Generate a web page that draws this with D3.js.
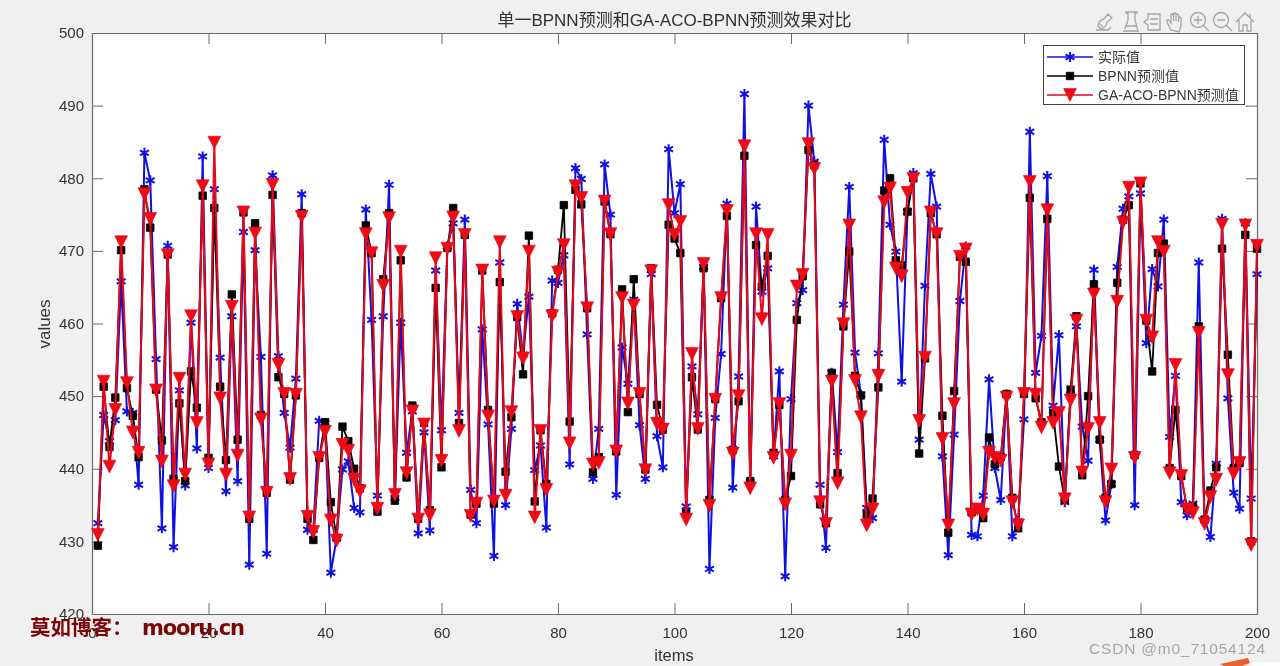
<!DOCTYPE html>
<html><head><meta charset="utf-8">
<script src="https://cdn.jsdelivr.net/npm/d3@7/dist/d3.min.js"></script>
<style>html,body{margin:0;padding:0;background:#f0f0f0;overflow:hidden}svg{display:block;filter:blur(0.35px)}
text{font-family:"Liberation Sans","Noto Sans CJK SC",sans-serif}</style></head><body>
<svg id="c" width="1280" height="666"></svg>
<script>
const chartTitle="单一BPNN预测和GA-ACO-BPNN预测效果对比";
const seriesNames=["实际值","BPNN预测值","GA-ACO-BPNN预测值"];
const xTicks=[0,20,40,60,80,100,120,140,160,180,200];
const yTicks=[420,430,440,450,460,470,480,490,500];
const actual=[432.5,447.4,443.8,446.7,465.8,447.9,447.7,437.8,483.5,479.7,455.1,431.8,470.7,429.2,450.8,437.7,460.1,442.8,483,440.1,478.5,455.3,436.9,461,438.3,472.6,426.8,470.1,455.4,428.3,480.4,455.5,447.7,442.9,452.4,477.8,431.6,431.6,446.6,446.3,425.7,430.5,439.9,441,434.6,434,475.7,460.5,436.3,461,479.1,436,460.1,442.2,447.9,431.1,445,431.5,467.3,445.3,470.6,473.8,447.7,474.3,437.1,432.5,459.2,446.1,428,468.4,435,445.5,462.7,455.7,463.7,439.8,443.2,431.9,465.9,465.6,469.4,440.6,481.4,479.9,458.5,438.6,445.5,481.9,475,436.4,456.7,451.7,463.3,446,438.6,466.8,444.5,440.2,484,475.2,479.2,434.8,454.1,447.5,467.8,426.2,447,455.8,476.5,437.4,452.7,491.6,438.2,476.1,464.4,467.6,441.7,453.4,425.2,449.6,462.8,464.6,490,482.3,437.8,429.1,453.2,442.3,462.6,478.8,456,450.2,434.6,433.2,455.9,485.3,473.6,469.9,452,475.4,480.7,444,465.2,480.6,476.1,441.7,428.1,444.7,463.1,470.6,430.9,430.7,436.3,452.3,440.1,435.7,450.2,430.7,432.8,446.8,486.4,453.2,458.3,480.3,448.7,458.4,435.4,450.2,459.6,445.8,441.1,467.4,444,432.9,437.9,467.8,475.8,477.5,435,477.9,457.3,467.5,465.1,474.3,444.4,452.8,435.4,433.6,435.2,468.4,433,430.6,440.7,474.4,449.7,436.7,434.5,473.8,435.9,466.8];
const bpnn=[429.4,451.3,443,449.8,470.1,451.1,447.3,441.6,478.5,473.2,450.9,443.9,469.5,438.6,449,438.3,453.4,448.4,477.6,441.5,475.9,451.3,441.2,464,444,475.3,433.1,473.8,447.4,436.7,477.7,452.6,450.3,438.5,450.1,475.2,433.1,430.2,441.5,446.4,435.4,430.5,445.8,443.8,440,437.3,473.5,469.7,434.1,466.1,475.2,435.6,468.7,438.8,448.7,433.1,446.3,434.3,464.9,440.2,470.4,475.9,446.3,472.2,433.7,435.2,467.3,448.1,435.2,465.7,439.6,447.1,460.9,453,472.1,435.5,445.3,437.9,461.4,467.4,476.3,446.5,478.4,476.4,462.1,439.5,441.6,476.8,472.3,442.4,464.7,447.8,466.1,450.3,439.9,467.6,448.8,445.4,473.6,471.7,469.7,433.9,452.6,445.4,467.6,435.7,449.6,463.5,474.8,442.6,449.3,483.1,438.3,470.8,465.1,469.3,442.2,448.8,435.7,439,460.5,466.5,483.9,481.8,435.1,432.5,453.2,439.4,459.6,469.9,452.8,450.1,433.7,435.9,451.2,478.3,480,468.7,468,475.4,480,442.1,455.2,475.2,472.3,447.3,431.2,450.7,469.2,468.5,434,434.4,433.2,444.3,440.6,441.6,450.3,436,431.8,450.3,477.3,449.7,446.4,474.4,447.7,440.3,435.7,450.9,461,439.1,450,465.4,444,436,437.9,465.6,474.3,476.3,441.9,479.3,460.4,453.4,469.7,471,440.1,448.1,439,434.6,434.8,459.6,433,437,440.2,470.3,455.7,440.1,440.8,472.2,430,470.3];
const gaaco=[430.9,452,440.3,448.1,471.2,451.8,445,442.2,477.8,474.4,450.8,441,469.4,437.6,452.4,439.2,461,446.3,478.9,440.6,484.9,449.7,439.2,462.3,441.8,475.3,433.3,472.4,446.8,436.7,479.1,454.3,450.3,438.6,450.2,474.7,433.4,431.3,441.5,445.1,432.9,430.1,443.3,442.5,438.5,436.9,472.3,469.7,434.5,465.2,474.5,436.4,469.9,439.4,447.9,433,446.1,433.6,469,441.1,470.3,474.6,445.2,472.2,433.5,435.2,467.3,447.2,435.5,471.2,436.3,447.8,460.9,455.2,469.9,433.3,445.2,437.1,461,467,470.8,443.5,478.9,477.3,462.1,440.6,440.8,476.8,472.3,442.4,463.5,449,462.5,450.3,439.8,467.2,446.2,445.4,476.3,472.2,474,433,455.8,445.5,468.2,434.9,449.5,463.5,475.5,442.1,450,484.4,437.3,472.3,460.6,472.2,441.5,448.9,435.1,441.8,465.1,466.7,484.7,481.3,435.4,432.4,452,438,459.9,473.5,452.1,447.1,432.2,434.4,452.8,476.7,478.6,467.6,466.5,478,479.9,446.6,455.3,475.3,472.3,444.1,432.2,448.9,469.2,470.2,433.7,434.4,433.7,442.2,441.5,441.1,449.8,435.4,432.2,450.3,479.5,450.2,445.7,475.6,446.3,447.7,435.8,449.4,460.4,439.5,445.5,464,446.3,435.4,439.9,463,473.9,478.7,441.5,479.3,460.4,458.1,471.2,469.9,439.4,454.3,439,434.4,433.9,458.7,432.4,436.1,438.5,473.6,452.9,439.3,440.8,473.5,429.5,470.7];

const W=1280,H=666,L=92,R=1257,T=33,B=614;
const svg=d3.select("#c");
svg.append("rect").attr("width",W).attr("height",H).attr("fill","#f0f0f0");
svg.append("rect").attr("x",L).attr("y",T).attr("width",R-L).attr("height",B-T).attr("fill","#fff");

const x=d3.scaleLinear().domain([0,200]).range([L,R]);
const y=d3.scaleLinear().domain([420,500]).range([B,T]);
const axisCol="#6b6b6b",txtCol="#333";
function style(g,hide){
  g.select(".domain").attr("stroke",axisCol).attr("stroke-width",1.2);
  g.selectAll(".tick line").attr("stroke",axisCol);
  g.selectAll(".tick text").attr("fill",txtCol).attr("font-size",15).attr("font-family",'"Liberation Sans",sans-serif');
  if(hide)g.selectAll(".tick text").remove();
}
svg.append("g").attr("transform",`translate(0,${B})`).call(d3.axisBottom(x).tickValues(xTicks).tickSizeInner(-11).tickSizeOuter(0).tickPadding(13)).call(style,false);
svg.append("g").attr("transform",`translate(0,${T})`).call(d3.axisTop(x).tickValues(xTicks).tickSizeInner(-11).tickSizeOuter(0)).call(style,true);
svg.append("g").attr("transform",`translate(${L},0)`).call(d3.axisLeft(y).tickValues(yTicks).tickSizeInner(-11).tickSizeOuter(0).tickPadding(8)).call(style,false);
svg.append("g").attr("transform",`translate(${R},0)`).call(d3.axisRight(y).tickValues(yTicks).tickSizeInner(-11).tickSizeOuter(0)).call(style,true);

const triDown={draw(c,s){const r=Math.sqrt(s)/2;c.moveTo(-r,-r);c.lineTo(r,-r);c.lineTo(0,r);c.closePath();}};
const styles=[
 {data:actual,col:"#1010e6",type:d3.symbolAsterisk,size:72,fill:"none",sw:2,lw:2},
 {data:bpnn,col:"#000",type:d3.symbolSquare,size:56,fill:"#000",sw:0.8,lw:1.8},
 {data:gaaco,col:"#e5091c",type:triDown,size:165,fill:"#f00a14",sw:0.6,lw:2}
];
const line=d3.line().x((d,i)=>x(i+1)).y(d=>y(d));
const plot=svg.append("g");
styles.forEach(s=>{
  const g=plot.append("g");
  g.append("path").attr("d",line(s.data)).attr("fill","none").attr("stroke",s.col).attr("stroke-width",s.lw).attr("stroke-linejoin","round");
  g.selectAll("path.m").data(s.data).join("path").attr("class","m")
   .attr("transform",(d,i)=>`translate(${x(i+1)},${y(d)})`)
   .attr("d",d3.symbol().type(s.type).size(s.size)())
   .attr("fill",s.fill).attr("stroke",s.col).attr("stroke-width",s.sw);
});

svg.append("text").attr("x",674.5).attr("y",26).attr("text-anchor","middle").attr("font-size",17).attr("fill","#303030").text(chartTitle);
svg.append("text").attr("x",674).attr("y",661).attr("text-anchor","middle").attr("font-size",16.5).attr("fill",txtCol).text("items");
svg.append("text").attr("transform","translate(50,324) rotate(-90)").attr("text-anchor","middle").attr("font-size",17).attr("fill",txtCol).text("values");

// legend
const lg=svg.append("g");
lg.append("rect").attr("x",1043.5).attr("y",45.5).attr("width",201).attr("height",59).attr("fill","#fff").attr("stroke","#444");
const lgY=d3.scalePoint().domain(seriesNames).range([57,95]);
styles.forEach((s,i)=>{
  const n=seriesNames[i],yy=lgY(n);
  lg.append("line").attr("x1",1047).attr("x2",1093).attr("y1",yy).attr("y2",yy).attr("stroke",s.col).attr("stroke-width",1.5);
  lg.append("path").attr("transform",`translate(1070,${yy})`).attr("d",d3.symbol().type(s.type).size(s.size)()).attr("fill",s.fill).attr("stroke",s.col).attr("stroke-width",s.sw);
  lg.append("text").attr("x",1098).attr("y",yy+5).attr("font-size",14).attr("fill","#383838").text(n);
});

// toolbar
const tb=svg.append("g").attr("fill","none").attr("stroke","#a5a5a5").attr("stroke-width",1.3);
tb.append("path").attr("d","M1096 30h12l3-3M1098 26q1-6 6-7l4-5 4 4-5 4q-1 6-6 7zM1100 24l3 3");
tb.append("path").attr("d","M1123 31h15l-3-11v-7h2v-1h-11v1h2v7l-3 9M1126 26h10");
tb.append("path").attr("d","M1148 14h12v16h-12v-5l-4-3 4-3zM1150 19h8M1150 24h8");
tb.append("path").attr("d","M1171 30l-4-8q-1-3 2-2l2 3v-8q1-2 2.500 0v6v-7q1-2 2.500 0v7v-6q1-2 2.500 0v7v-4q1-2 2.500 0v8l-2 6z");
[1198,1221].forEach((cx,i)=>{
  tb.append("circle").attr("cx",cx).attr("cy",20).attr("r",7.5);
  tb.append("path").attr("d",`M${cx+5} ${25}l6 6M${cx-4} 20h8`+(i==0?`M${cx} 16v8`:""));
});
tb.append("path").attr("d","M1236 22l9-9 9 9M1239 20v11h4v-6h4v6h4v-11M1250 14v3");

// watermarks
svg.append("text").attr("x",30).attr("y",635).attr("font-size",20.5).attr("font-weight",700).attr("fill","#7c0508").style("font-family",'"Noto Sans CJK SC",sans-serif').text("莫如博客：");
svg.append("text").attr("x",142).attr("y",635).attr("font-size",21).attr("font-weight",700).attr("fill","#7c0508").attr("textLength",103).style("font-family",'"DejaVu Sans",sans-serif').text("mooru.cn");
svg.append("text").attr("x",1089).attr("y",653.5).attr("font-size",15.5).attr("fill","#a6a6a6").attr("textLength",176).text("CSDN @m0_71054124");
svg.append("path").attr("d","M1220 664l28-6 2 5-8 3h-18z").attr("fill","#e8602c");
svg.append("rect").attr("x",1252).attr("y",662).attr("width",28).attr("height",4).attr("fill","#fff");
</script></body></html>
